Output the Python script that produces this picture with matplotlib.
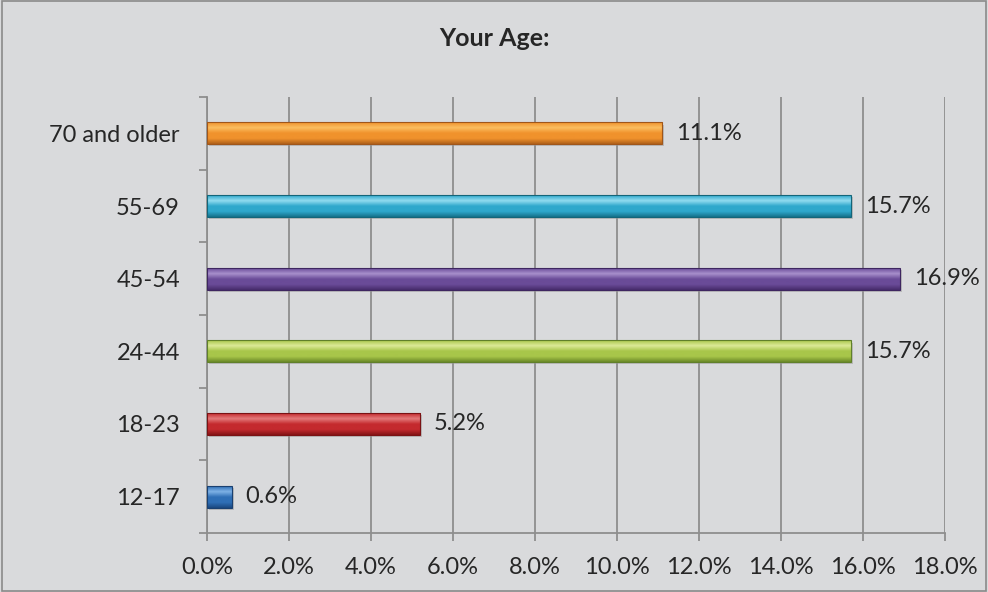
from matplotlib import pyplot as plt
from matplotlib.colors import LinearSegmentedColormap
import numpy as np

# data
ages = ['12-17', '18-23', '24-44', '45-54', '55-69', '70 and older']
share = [0.6, 5.2, 15.7, 16.9, 15.7, 11.1]
x_ticks = [0, 2, 4, 6, 8, 10, 12, 14, 16, 18]
x_tick_labels = ['0.0%', '2.0%', '4.0%', '6.0%', '8.0%', '10.0%', '12.0%', '14.0%', '16.0%', '18.0%']

# gradient colours per bar: top, middle, bottom
bar_colors = [
    ('#7fb2e6', '#2f6fb6', '#1a4880'),
    ('#e47a7a', '#c42a2e', '#851417'),
    ('#dcea98', '#a8c64a', '#6b8a28'),
    ('#a890cc', '#6a4b98', '#472c6c'),
    ('#92dcf0', '#2fa8cc', '#15718a'),
    ('#fbbe60', '#f0922c', '#b0601a'),
]
edge_colors = ['#1a4070', '#7a1214', '#60802a', '#3e2660', '#136579', '#a0561a']

BG = '#d9dadc'
GRID = '#8e8e8e'
TXT = '#262626'

plt.rcParams['font.family'] = ['Lato', 'DejaVu Sans']

fig = plt.figure(figsize=(9.88, 5.92), dpi=100, facecolor=BG)
fig.patches.append(plt.Rectangle((0.002, 0.002), 0.996, 0.996, transform=fig.transFigure,
                                  fill=False, edgecolor='#8a8a8a', linewidth=1.2))
ax = fig.add_axes([207/988, 59/592, 738/988, 436/592])
ax.set_facecolor(BG)

y = np.arange(len(ages))
h = 0.3
bars = ax.barh(y, share, height=h, color='none', edgecolor='none', zorder=3)

for i, (b, v) in enumerate(zip(bars, share)):
    # soft shadow under the bar
    ax.barh(y[i] - 0.03, v, height=h, left=0.05, color='#9a9a9a', alpha=0.5, zorder=2)
    cmap = LinearSegmentedColormap.from_list('g%d' % i, [bar_colors[i][2], bar_colors[i][1],
                                                         bar_colors[i][1], bar_colors[i][0],
                                                         bar_colors[i][1]])
    grad = np.linspace(0, 1, 64).reshape(-1, 1)
    im = ax.imshow(grad, cmap=cmap, aspect='auto', origin='lower',
                   extent=[0, v, y[i] - h/2, y[i] + h/2], zorder=3)
    im.set_clip_path(b)
    ax.barh(y[i], v, height=h, color='none', edgecolor=edge_colors[i], linewidth=0.8, zorder=4)
    ax.annotate('%.1f%%' % v, xy=(v, y[i]), xytext=(10, 0), textcoords='offset points',
                va='center', ha='left', fontsize=17, color=TXT, zorder=5)

ax.set_xlim(0, 18)
ax.set_ylim(-0.5, len(ages) - 0.5)

ax.set_xticks(x_ticks)
ax.set_xticklabels(x_tick_labels)
ax.set_yticks(np.arange(-0.5, len(ages)), labels=[''] * (len(ages) + 1))
ax.set_yticks(y, minor=True)
ax.set_yticklabels(ages, minor=True)

ax.tick_params(axis='x', direction='out', length=6, width=1.3, color=GRID,
               labelsize=17, labelcolor=TXT, pad=11)
ax.tick_params(axis='y', which='major', direction='out', length=6, width=1.3, color=GRID)
ax.tick_params(axis='y', which='minor', length=0, labelsize=17, labelcolor=TXT, pad=19.5)

ax.grid(axis='x', color=GRID, linewidth=1.3, zorder=1)
ax.set_axisbelow(True)
for s in ['top', 'right']:
    ax.spines[s].set_visible(False)
for s in ['left', 'bottom']:
    ax.spines[s].set_color(GRID)
    ax.spines[s].set_linewidth(1.3)

fig.text(0.5, 1 - 39/592, 'Your Age:', ha='center', va='center', fontsize=18,
         fontweight='bold', color=TXT)

fig.savefig('out.png', dpi=100, facecolor=BG)
